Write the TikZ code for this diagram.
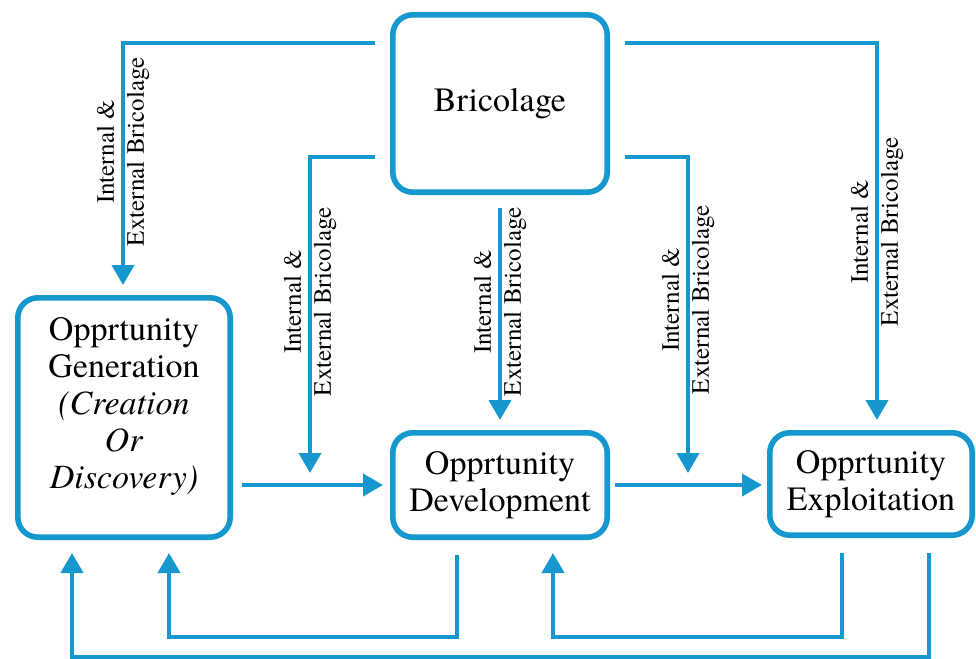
\documentclass[tikz,border=0pt]{standalone}
\usepackage{fontspec}
\setmainfont{texgyretermes}[Extension=.otf, UprightFont=*-regular, ItalicFont=*-italic, BoldFont=*-bold, BoldItalicFont=*-bolditalic]
\usetikzlibrary{arrows.meta}
\definecolor{bricblue}{RGB}{22,152,206}

\tikzset{
	box/.style={draw=bricblue, line width=2.8pt, rounded corners=10pt, align=center, inner sep=0pt, font=\fontsize{17}{18.5}\selectfont},
	flow/.style={draw=bricblue, line width=2pt, -{Triangle[width=11pt,length=10pt]}},
	lbl/.style={rotate=90, align=center, inner sep=0pt, font=\fontsize{12.5}{15}\selectfont},
}

\begin{document}
\begin{tikzpicture}[x=0.5pt, y=-0.5pt]
				\useasboundingbox (0,0) rectangle (976,659);
				\node[box, minimum width=107.2pt, minimum height=88.7pt] (bric)at(500, 103.5) {Bricolage};
				\node[box, minimum width=106.2pt, minimum height=119.7pt] (gen)at(124, 417.5) {};
				\node[align=center, font=\fontsize{17}{18.5}\selectfont] (gentxt)at(124, 407) {Opprtunity\\Generation\\\textit{(Creation}\\\textit{Or}\\\textit{Discovery)}};
				\node[box, minimum width=107.2pt, minimum height=52.2pt] (dev)at(500, 485) {Opprtunity\\Development};
				\node[box, minimum width=101.2pt, minimum height=51.2pt] (expl)at(871, 484) {Opprtunity\\Exploitation};
				\coordinate (gd)at(310, 473);
				\coordinate (de)at(688, 473);
				\draw[flow, shorten <=7.5pt, shorten >=5pt] (bric.west |- 0,43) -| (gen.north -| 123,0);
				\draw[flow, shorten <=7.5pt] (bric.west |- 0,157) -| (gd);
				\draw[flow, shorten <=6.5pt, shorten >=5pt] (bric.south) -- (dev.north);
				\draw[flow, shorten <=7.5pt] (bric.east |- 0,157) -| (de);
				\draw[flow, shorten <=7.5pt, shorten >=5pt] (bric.east |- 0,43) -| (expl.north -| 877,0);
				\draw[flow, shorten <=4.5pt, shorten >=3.5pt] (gen.east |- dev.west) -- (dev.west);
				\draw[flow, shorten <=2.5pt, shorten >=2.5pt] (dev.east) -- (expl.west |- dev.east);
				\draw[flow, shorten <=7.5pt, shorten >=6.5pt] (dev.south -| 457,0) -- ++(0,97) -| (gen.south -| 169,0);
				\draw[flow, shorten <=7.5pt, shorten >=6.5pt] (expl.south -| 842,0) -- ++(0,99) -| (dev.south -| 553,0);
				\draw[flow, shorten <=7.5pt, shorten >=6.5pt] (expl.south -| 929,0) -- ++(0,119) -| (gen.south -| 72,0);
				\node[lbl] (lgen)at(123, 152) {Internal \&\\External Bricolage};
				\node[lbl] (lgd)at(310, 302) {Internal \&\\External Bricolage};
				\node[lbl] (ldev)at(500, 302) {Internal \&\\External Bricolage};
				\node[lbl] (lde)at(688, 300) {Internal \&\\External Bricolage};
				\node[lbl] (lexpl)at(877, 232) {Internal \&\\External Bricolage};
			\end{tikzpicture}
\end{document}
